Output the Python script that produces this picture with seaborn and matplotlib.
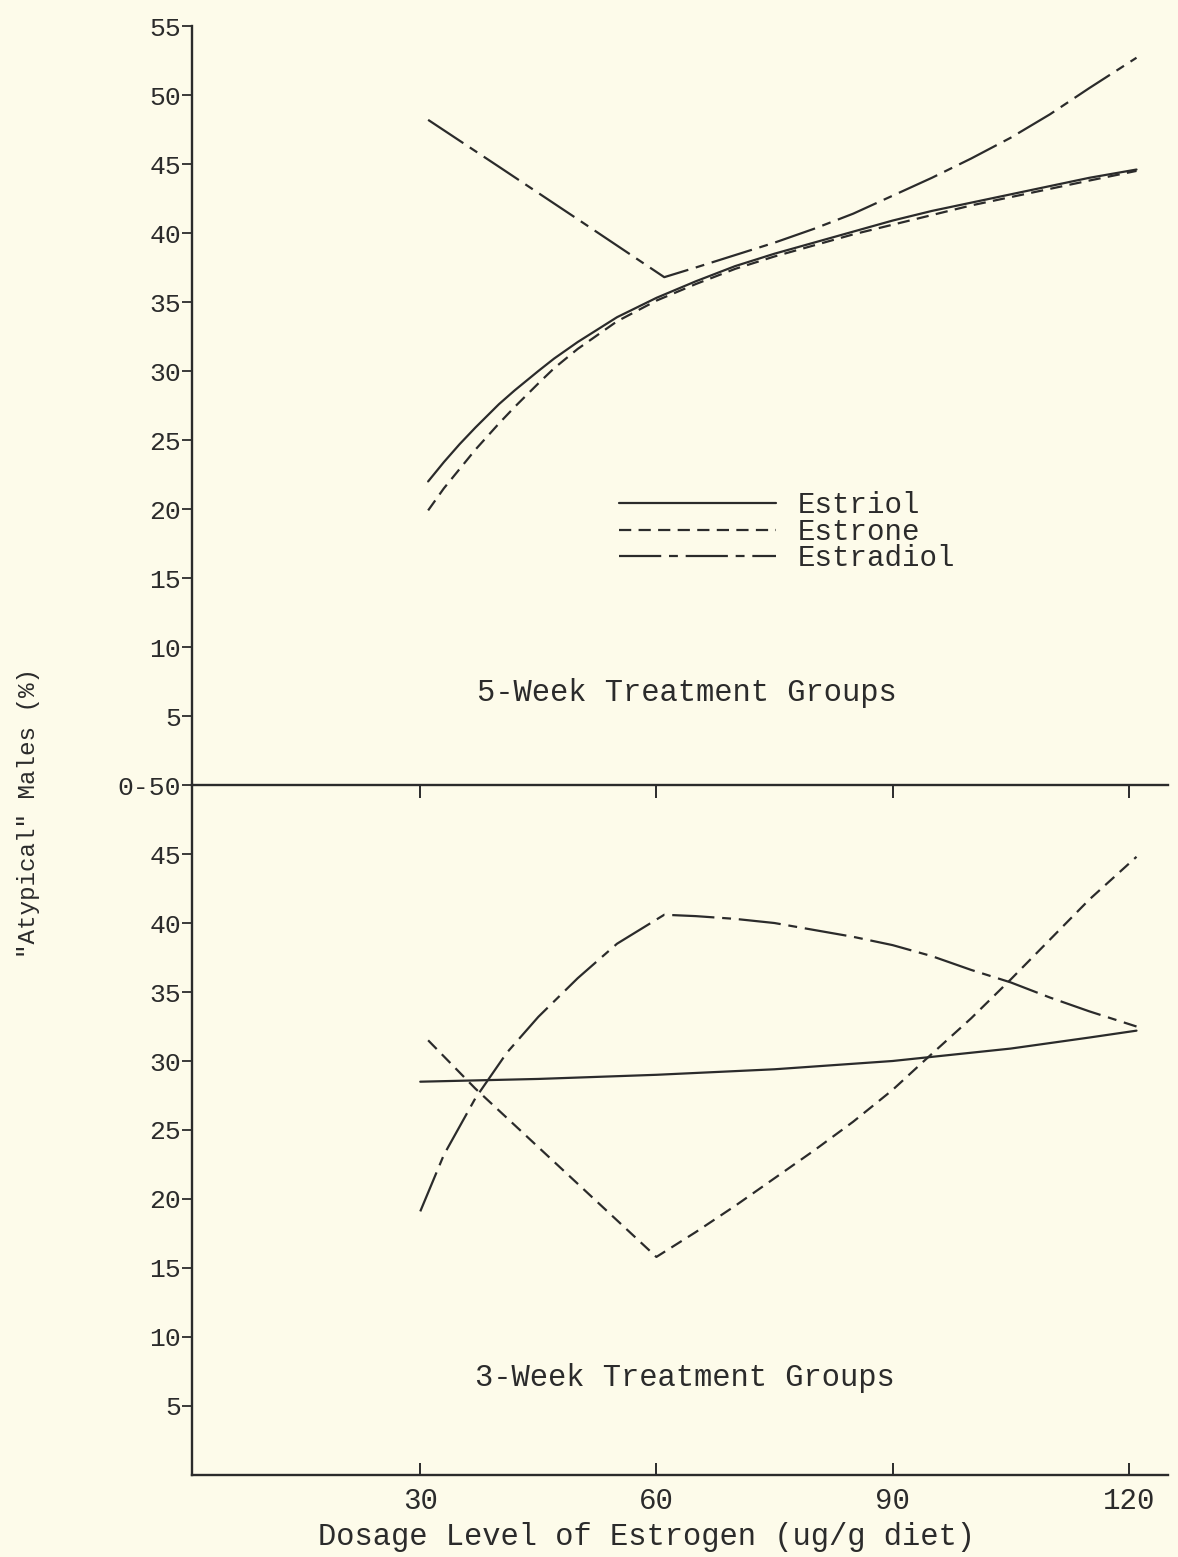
import pandas as pd
import seaborn as sns
import matplotlib.pyplot as plt

# values (% "atypical" males vs dose, ug/g diet)
series_order = ['Estriol', 'Estrone', 'Estradiol']

# 5-week treatment groups
wk5_estriol_x = [31, 33, 35, 37, 40, 42, 45, 47, 50, 55, 60, 65, 70, 75, 80, 85, 90, 95, 100, 105, 110, 115, 121]
wk5_estriol_y = [22.0, 23.4, 24.7, 25.9, 27.6, 28.6, 30.0, 30.9, 32.1, 33.9, 35.3, 36.5, 37.6, 38.5, 39.3,
                 40.1, 40.9, 41.6, 42.2, 42.8, 43.4, 44.0, 44.6]
wk5_estrone_x = [31, 33, 35, 37, 40, 42, 45, 47, 50, 55, 60, 65, 70, 75, 80, 85, 90, 95, 100, 105, 110, 115, 121]
wk5_estrone_y = [19.9, 21.5, 22.9, 24.3, 26.2, 27.4, 29.1, 30.2, 31.6, 33.6, 35.1, 36.3, 37.4, 38.3, 39.1,
                 39.9, 40.6, 41.3, 42.0, 42.6, 43.2, 43.8, 44.5]
wk5_estradiol_x = [31, 40, 50, 61, 65, 70, 75, 80, 85, 90, 95, 100, 105, 110, 115, 121]
wk5_estradiol_y = [48.2, 44.8, 41.0, 36.8, 37.5, 38.4, 39.3, 40.3, 41.4, 42.7, 44.0, 45.4, 46.9, 48.6, 50.5, 52.7]

# 3-week treatment groups
wk3_estriol_x = [30, 45, 60, 75, 90, 100, 105, 110, 115, 121]
wk3_estriol_y = [28.5, 28.7, 29.0, 29.4, 30.0, 30.6, 30.9, 31.3, 31.7, 32.2]
wk3_estrone_x = [31, 37, 60, 65, 70, 75, 80, 85, 90, 94, 100, 105, 110, 115, 121]
wk3_estrone_y = [31.5, 28.0, 15.8, 17.6, 19.5, 21.5, 23.5, 25.6, 27.9, 30.0, 33.1, 35.9, 38.8, 41.7, 44.8]
wk3_estradiol_x = [30, 33, 37, 41, 45, 50, 55, 61, 65, 70, 75, 80, 85, 90, 95, 100, 105, 110, 115, 121]
wk3_estradiol_y = [19.1, 23.2, 27.3, 30.6, 33.2, 36.0, 38.5, 40.6, 40.5, 40.3, 40.0, 39.5, 39.0, 38.4,
                   37.6, 36.6, 35.7, 34.6, 33.6, 32.5]

dose_ticks = [30, 60, 90, 120]
wk5_yticks = [0, 5, 10, 15, 20, 25, 30, 35, 40, 45, 50, 55]
wk5_ytick_labels = ['0-50', '5', '10', '15', '20', '25', '30', '35', '40', '45', '50', '55']
wk3_yticks = [5, 10, 15, 20, 25, 30, 35, 40, 45]


def long_form(xs, ys):
    frames = []
    for name, x, y in zip(series_order, xs, ys):
        frames.append(pd.DataFrame({'dose': x, 'pct': y, 'steroid': name}))
    return pd.concat(frames, ignore_index=True)


df5 = long_form([wk5_estriol_x, wk5_estrone_x, wk5_estradiol_x],
                [wk5_estriol_y, wk5_estrone_y, wk5_estradiol_y])
df3 = long_form([wk3_estriol_x, wk3_estrone_x, wk3_estradiol_x],
                [wk3_estriol_y, wk3_estrone_y, wk3_estradiol_y])

paper = '#fdfbea'
ink = '#2b2b2b'
dash_map = {'Estriol': '', 'Estrone': (5.5, 3.3), 'Estradiol': (19, 3.5, 4, 3.5)}

sns.set_style('ticks')
plt.rcParams['font.family'] = ['Liberation Mono', 'DejaVu Sans Mono']
plt.rcParams['text.color'] = ink
plt.rcParams['axes.edgecolor'] = ink
plt.rcParams['xtick.color'] = ink
plt.rcParams['ytick.color'] = ink

fig = plt.figure(figsize=(11.78, 15.57), dpi=100, facecolor=paper)
ax_top = fig.add_axes([0.163, 0.4958, 0.8285, 0.4875])
ax_bot = fig.add_axes([0.163, 0.0527, 0.8285, 0.4431])
ax_top.set_zorder(2)

for ax, df in [(ax_top, df5), (ax_bot, df3)]:
    sns.lineplot(data=df, x='dose', y='pct', style='steroid', style_order=series_order,
                 dashes=dash_map, color=ink, linewidth=1.6, errorbar=None,
                 legend=False, ax=ax)
    ax.patch.set_visible(False)
    ax.set_xlim(1, 125)
    ax.set_xlabel('')
    ax.set_ylabel('')
    for side in ['top', 'right']:
        ax.spines[side].set_visible(False)
    ax.spines['left'].set_linewidth(1.7)
    ax.spines['bottom'].set_linewidth(1.7)
    ax.set_xticks(dose_ticks)
    ax.tick_params(axis='y', direction='out', length=7, width=1.3, pad=1, labelsize=19)

# top panel: 5 weeks
ax_top.set_ylim(0, 55)
ax_top.set_yticks(wk5_yticks)
ax_top.set_yticklabels(wk5_ytick_labels)
ax_top.tick_params(axis='x', direction='out', length=9, width=1.4, labelbottom=False)
ax_top.text(37.2, 6.7, '5-Week Treatment Groups', fontsize=22, ha='left', va='center')

leg = ax_top.legend(ax_top.get_lines()[:3], series_order, loc='upper left',
                    bbox_to_anchor=(0.437, 0.387), frameon=False, fontsize=21,
                    handlelength=5.4, handletextpad=0.75, labelspacing=-0.05,
                    borderpad=0, borderaxespad=0)

# bottom panel: 3 weeks
ax_bot.set_ylim(0, 50)
ax_bot.set_yticks(wk3_yticks)
ax_bot.tick_params(axis='x', direction='in', length=9, width=1.4, pad=9, labelsize=21)
ax_bot.text(37.0, 7.0, '3-Week Treatment Groups', fontsize=22, ha='left', va='center')

fig.text(0.024, 0.478, '"Atypical" Males (%)', rotation=90, fontsize=17.5,
         ha='center', va='center')
fig.text(0.549, 0.0128, 'Dosage Level of Estrogen (ug/g diet)', fontsize=22,
         ha='center', va='center')

fig.savefig('out.png', dpi=100, facecolor=paper)
